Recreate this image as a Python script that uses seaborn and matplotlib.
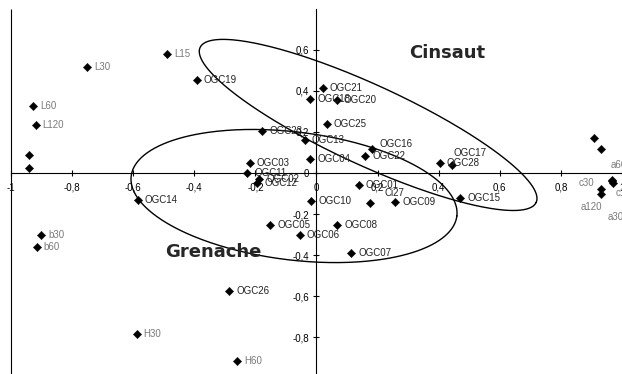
import numpy as np
import pandas as pd
import matplotlib
matplotlib.use("Agg")
import matplotlib.pyplot as plt
import seaborn as sns

# Factorial map (axis 1 / axis 2) of the must samples
ogc_names = ["OGC01", "OGC02", "OGC03", "OGC04", "OGC05", "OGC06", "OGC07",
             "OGC08", "OGC09", "OGC10", "OGC11", "OGC12", "OGC13", "OGC14",
             "OGC15", "OGC16", "OGC17", "OGC18", "OGC19", "OGC20", "OGC21",
             "OGC22", "OGC23", "OGC25", "OGC26", "OGC28", "Ci27"]
ogc_x = [0.138, -0.187, -0.219, -0.020, -0.152, -0.055, 0.114,
         0.068, 0.258, -0.017, -0.227, -0.194, -0.038, -0.585,
         0.471, 0.182, 0.445, -0.020, -0.392, 0.066, 0.021,
         0.159, -0.178, 0.034, -0.286, 0.404, 0.175]
ogc_y = [-0.056, -0.029, 0.047, 0.067, -0.253, -0.302, -0.391,
         -0.255, -0.141, -0.136, -0.001, -0.050, 0.159, -0.133,
         -0.120, 0.117, 0.040, 0.362, 0.453, 0.355, 0.412,
         0.084, 0.206, 0.240, -0.576, 0.047, -0.146]

# Reference samples (labels drawn in grey)
ref_names = ["L15", "L30", "L60", "L120", "b30", "b60", "H30", "H60",
             "", "", "", "", "a60", "c120", "c30", "a120", "a30"]
ref_x = [-0.490, -0.751, -0.928, -0.919, -0.901, -0.916, -0.589, -0.261,
         -0.942, -0.942, 0.908, 0.932, 0.966, 0.971, 0.931, 0.931, 0.967]
ref_y = [0.578, 0.516, 0.327, 0.234, -0.302, -0.360, -0.782, -0.916,
         0.086, 0.023, 0.169, 0.118, -0.032, -0.049, -0.078, -0.102, -0.039]

x_ticks = [-1, -0.8, -0.6, -0.4, -0.2, 0, 0.2, 0.4, 0.6, 0.8, 1]
x_tick_labels = ["-1", "-0,8", "-0,6", "-0,4", "-0,2", "0", "0,2", "0,4", "0,6", "0,8", "1"]
y_ticks = [-0.8, -0.6, -0.4, -0.2, 0, 0.2, 0.4, 0.6]
y_tick_labels = ["-0,8", "-0,6", "-0,4", "-0,2", "0", "0,2", "0,4", "0,6"]

sns.set_style("white")
plt.rcParams["font.family"] = ["Liberation Sans", "DejaVu Sans"]
plt.rcParams["axes.linewidth"] = 0.8

df = pd.DataFrame({
    "name": ogc_names + ref_names,
    "axis1": ogc_x + ref_x,
    "axis2": ogc_y + ref_y,
    "group": ["ogc"] * len(ogc_names) + ["ref"] * len(ref_names),
})

fig = plt.figure(figsize=(6.22, 3.74), dpi=100)
ax = fig.add_axes([0, 0, 1, 1])
XLIM = (-1.036, 1.0)
YLIM = (-0.978, 0.842)
ax.set_xlim(*XLIM)
ax.set_ylim(*YLIM)

# axes crossing at the origin
for side in ("top", "right"):
    ax.spines[side].set_visible(False)
ax.spines["left"].set_position(("data", 0))
ax.spines["bottom"].set_position(("data", 0))
ax.spines["left"].set_bounds(-1, 0.8)
ax.spines["bottom"].set_bounds(-1, 1)
for side in ("left", "bottom"):
    ax.spines[side].set_color("black")
    ax.spines[side].set_linewidth(0.8)
ax.vlines(-1, -1, 0.8, color="black", linewidth=0.8)

ax.set_xticks(x_ticks)
ax.set_xticklabels(x_tick_labels)
ax.set_yticks(y_ticks)
ax.set_yticklabels(y_tick_labels)
ax.tick_params(axis="both", direction="inout", length=5, width=0.8,
               colors="black", labelsize=7, bottom=True, left=True)
ax.tick_params(axis="x", pad=4.5)
ax.tick_params(axis="y", pad=3.0)
ax.grid(False)

# group ellipses, given by centre and two conjugate semi-axes
t = np.linspace(0, 2 * np.pi, 400)
ellipses = {
    "Cinsaut": ((0.169, 0.234), (0.550, -0.377), (-0.0549, -0.1767)),
    "Grenache": ((-0.0736, -0.1119), (0.533, -0.0973), (-0.0255, -0.309)),
}
for (cx, cy), (ux, uy), (vx, vy) in ellipses.values():
    ax.plot(cx + ux * np.cos(t) + vx * np.sin(t),
            cy + uy * np.cos(t) + vy * np.sin(t),
            color="black", linewidth=1.0, zorder=2)

sns.scatterplot(data=df, x="axis1", y="axis2", marker="D", color="black",
                edgecolor="black", linewidth=0.3, s=18, legend=False, ax=ax,
                zorder=3)
ax.set_xlabel("")
ax.set_ylabel("")

PX = 0.72  # points per pixel
label_shift = {
    "OGC16": (7, -5, "left"),
    "OGC17": (1, -12, "left"),
    "Ci27": (15, -10, "left"),
    "a60": (-0.5, -14.5, "left"),
    "c120": (2, 10, "left"),
    "c30": (-7, -6, "right"),
    "a120": (1, 13, "right"),
    "a30": (-4, 36, "left"),
}
for name, x, y, grp in df.itertuples(index=False):
    if not name:
        continue
    dx, dy, ha = label_shift.get(name, (7, 0, "left"))
    ax.annotate(name, (x, y), xytext=(dx * PX, -dy * PX),
                textcoords="offset points", ha=ha, va="center", fontsize=7,
                color="#222222" if grp == "ogc" else "#7a7a7a", zorder=4)

ax.text(0.427, 0.582, "Cinsaut", fontsize=13, fontweight="bold",
        family=["DejaVu Sans"], ha="center", va="center")
ax.text(-0.337, -0.382, "Grenache", fontsize=13, fontweight="bold",
        family=["DejaVu Sans"], ha="center", va="center")

fig.savefig("out.png", dpi=100)
